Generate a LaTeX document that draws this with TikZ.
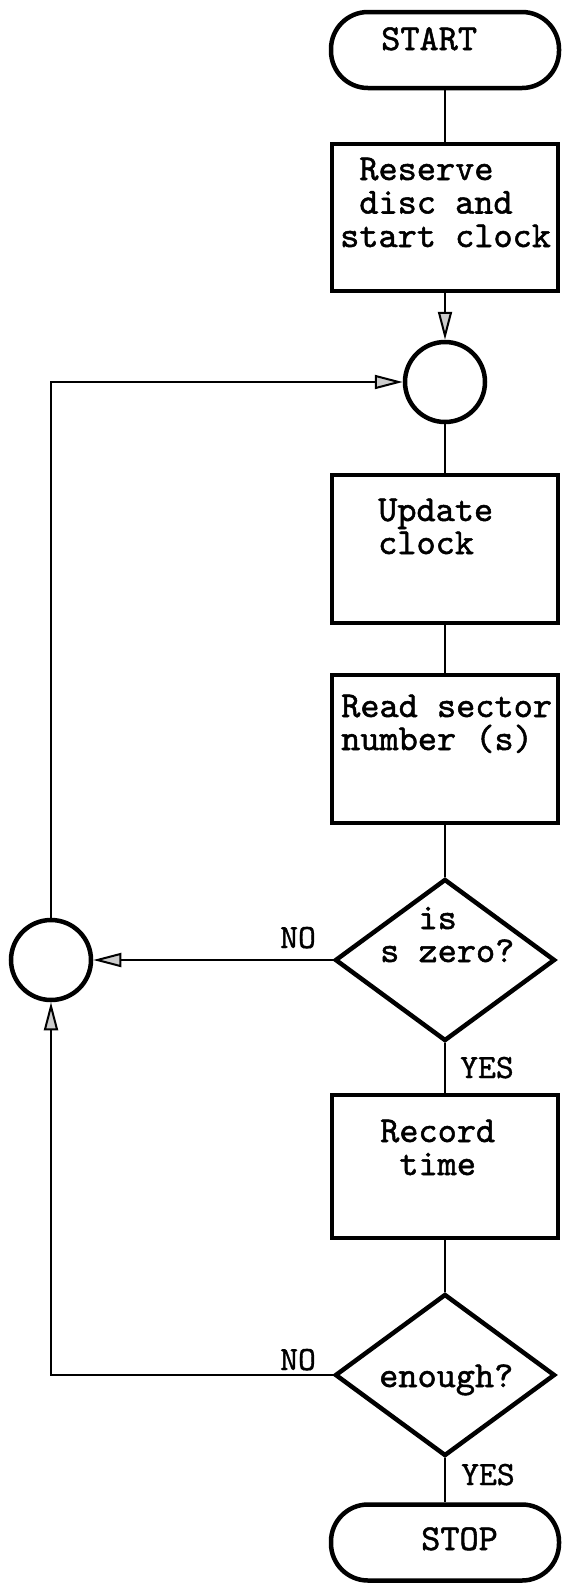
\documentclass[tikz,border=0pt]{standalone}
\usepackage{fontspec}
\newfontfamily\typew{lmmono10-regular.otf}[FakeBold=1.4]
\newfontfamily\typewlbl{lmmono10-regular.otf}[FakeBold=1.0]
\usetikzlibrary{shapes.geometric,arrows.meta}
\begin{document}
\begin{tikzpicture}[x=1pt,y=-1pt,
  procbox/.style={draw, line width=4.5pt, rectangle, minimum width=226pt, inner sep=0pt},
  term/.style={draw, line width=4.5pt, rectangle, rounded corners=37pt, minimum width=228pt, minimum height=76pt, inner sep=0pt},
  junction/.style={draw, line width=4.5pt, circle, minimum size=80pt, inner sep=0pt},
  decision/.style={draw, line width=4.5pt, diamond, minimum width=220pt, minimum height=162pt, inner sep=0pt},
  txt/.style={anchor=base west, inner sep=0pt, align=left, font=\typew\fontsize{36.5}{#1}\selectfont},
  txt/.default=33,
  lbl/.style={anchor=base west, inner sep=0pt, font=\typewlbl\fontsize{34}{35}\selectfont},
  conn/.style={line width=2.2pt},
  arr/.style={line width=2.2pt, -{Triangle[length=28pt,width=14pt,fill=gray!40,line width=2pt]}}
]
\useasboundingbox (0,0) rectangle (564,1583);

% shapes
\node[term] (start) at (445,50) {};
\node[procbox, minimum height=147pt] (b1) at (445,217.5) {};
\node[junction] (c1) at (445,382) {};
\node[procbox, minimum height=148pt] (b2) at (445,549) {};
\node[procbox, minimum height=148pt] (b3) at (445,749) {};
\node[decision] (d1) at (445,960) {};
\node[procbox, minimum height=143pt] (b4) at (445,1166.5) {};
\node[decision] (d2) at (445,1375) {};
\node[term] (stop) at (445,1542.5) {};
\node[junction] (c2) at (51,960) {};

% texts (anchor = baseline of the last line)
\node[txt] (tstart) at (381,50) {START};
\node[txt=33.5] (t1) at (340,247) {~Reserve\\~disc and\\start clock};
\node[txt=33] (t2) at (378,554) {Update\\clock};
\node[txt=33] (t3) at (341,750) {Read sector\\number (s)};
\node[txt=33] (td1) at (380,962) {~~is\\s zero?};
\node[txt=33] (t4) at (380,1175) {Record\\~time};
\node[txt] (td2) at (379,1387) {enough?};
\node[txt] (tstop) at (421,1550) {STOP};
\node[lbl] (no1) at (280,948) {NO};
\node[lbl] (yes1) at (460,1078) {YES};
\node[lbl] (no2) at (280,1370) {NO};
\node[lbl] (yes2) at (461,1485) {YES};

% connectors
\draw[conn] (start.south) -- (b1.north);
\draw[arr] (b1.south) -- (c1.north);
\draw[conn] (c1.south) -- (b2.north);
\draw[conn] (b2.south) -- (b3.north);
\draw[conn] (b3.south) -- (d1.north);
\draw[conn] (d1.south) -- (b4.north);
\draw[conn] (b4.south) -- (d2.north);
\draw[conn] (d2.south) -- (stop.north);
\draw[arr] (d1.west) -- (c2.east);
\draw[arr] (d2.west) -| (c2.south);
\draw[arr] (c2.north) |- (c1.west);
\end{tikzpicture}
\end{document}
